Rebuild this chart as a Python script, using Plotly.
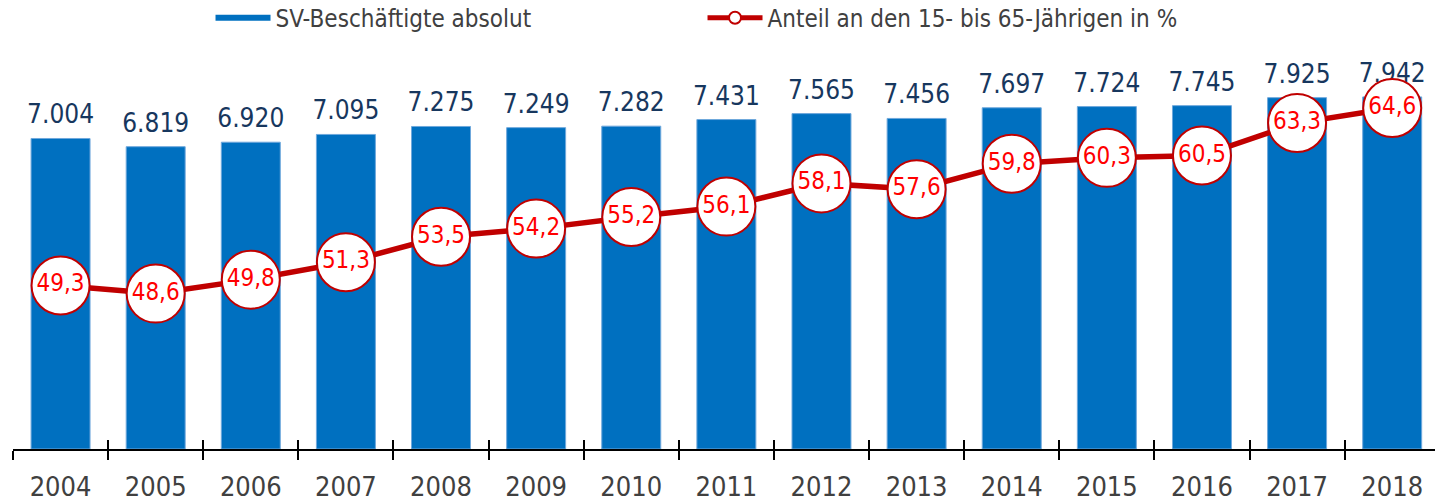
import plotly.graph_objects as go

years = ["2004", "2005", "2006", "2007", "2008", "2009", "2010", "2011",
         "2012", "2013", "2014", "2015", "2016", "2017", "2018"]
sv_absolut = [7004, 6819, 6920, 7095, 7275, 7249, 7282, 7431,
              7565, 7456, 7697, 7724, 7745, 7925, 7942]
anteil_pct = [49.3, 48.6, 49.8, 51.3, 53.5, 54.2, 55.2, 56.1,
              58.1, 57.6, 59.8, 60.3, 60.5, 63.3, 64.6]

bar_name = "SV-Beschäftigte absolut"
line_name = "Anteil an den 15- bis 65-Jährigen in %"

FONT = "DejaVu Sans Condensed, DejaVu Sans, sans-serif"
BLUE = "#0070C0"
DARKRED = "#C00000"

fig = go.Figure()

fig.add_trace(go.Bar(
    x=years, y=sv_absolut, name=bar_name, legendgroup="bar", showlegend=False,
    marker=dict(color=BLUE, line=dict(color="#6FA8DC", width=1)),
    hoverinfo="skip",
))

# value labels above the bars
fig.add_trace(go.Scatter(
    x=years, y=sv_absolut, mode="markers+text", showlegend=False,
    marker=dict(size=12, opacity=0),
    texttemplate="%{y:,.0f}", textposition="top center",
    textfont=dict(family=FONT, size=26, color="#17375E"),
    cliponaxis=False, hoverinfo="skip",
))

# legend entry for the bars (wide blue block)
fig.add_trace(go.Scatter(
    x=[None], y=[None], mode="none", name=bar_name, legendgroup="bar",
    fill="toself", fillcolor=BLUE, hoverinfo="skip",
))

fig.add_trace(go.Scatter(
    x=years, y=anteil_pct, name=line_name, yaxis="y2",
    mode="lines+markers+text",
    line=dict(color=DARKRED, width=5.5),
    marker=dict(size=58, color="white", line=dict(color=DARKRED, width=2)),
    texttemplate="%{y:.1f}", textposition="middle center",
    textfont=dict(family=FONT, size=24, color="#FF0000"),
    cliponaxis=False, hoverinfo="skip",
))

# helper trace for the inner half of the crossing tick marks
fig.add_trace(go.Scatter(x=[None], y=[None], xaxis="x2", showlegend=False,
                         hoverinfo="skip"))

xr = [-0.5, 14.45]
fig.update_layout(
    width=1435, height=502,
    margin=dict(l=13, r=0, t=50, b=53, autoexpand=False),
    paper_bgcolor="white", plot_bgcolor="white",
    separators=",.",
    bargap=0.38,
    font=dict(family=FONT, color="#404040"),
    showlegend=True,
    legend=dict(orientation="h", x=0.1389, xanchor="left", y=1.08, yanchor="middle",
                entrywidth=422, entrywidthmode="pixels",
                itemsizing="constant", itemwidth=55,
                font=dict(family=FONT, size=24, color="#404040"),
                bgcolor="rgba(0,0,0,0)"),
    xaxis=dict(type="category", range=xr, tickson="boundaries",
               ticks="outside", ticklen=9, tickwidth=1.5, tickcolor="black",
               showline=True, linecolor="black", linewidth=2,
               showgrid=False, zeroline=False,
               tickfont=dict(family=FONT, size=27, color="#404040"),
               ticklabelstandoff=13),
    xaxis2=dict(overlaying="x", anchor="y", side="bottom", range=xr,
                tickmode="array",
                tickvals=[i - 0.5 for i in range(len(years))],
                ticks="inside", ticklen=9, tickwidth=1.5, tickcolor="black",
                showticklabels=False, showline=False, showgrid=False,
                zeroline=False),
    yaxis=dict(range=[0, 9000], visible=False, showgrid=False, zeroline=False),
    yaxis2=dict(range=[35.2, 69.6], overlaying="y", side="right",
                visible=False, showgrid=False, zeroline=False),
)

fig.write_html("out.html", config={"displayModeBar": False},
               post_script="document.body.style.margin='0';document.body.style.overflow='hidden';")
